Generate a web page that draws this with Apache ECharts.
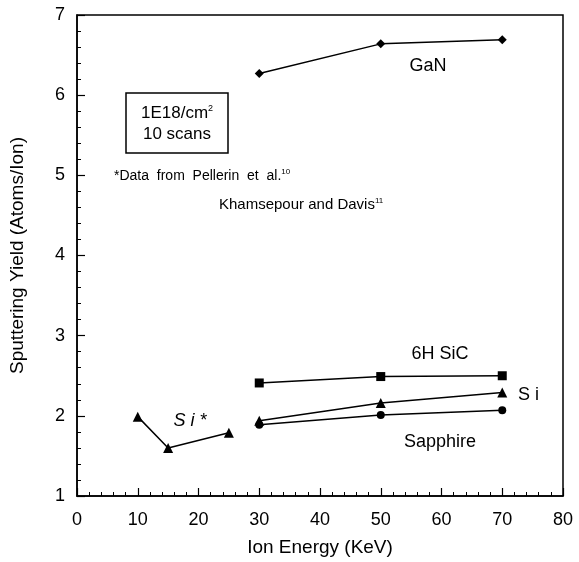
<!DOCTYPE html>
<html>
<head>
<meta charset="utf-8">
<script src="https://cdn.jsdelivr.net/npm/echarts@6/dist/echarts.min.js"></script>
<style>
  html, body { margin: 0; padding: 0; background: #fff; }
  #chart { width: 579px; height: 562px; }
</style>
</head>
<body>
<div id="chart"></div>
<script>
var energyHigh = [30, 50, 70];
var ganYield = [6.27, 6.64, 6.69];
var sicYield = [2.41, 2.49, 2.50];
var siYield = [1.94, 2.16, 2.29];
var sapphireYield = [1.89, 2.01, 2.07];
var energyLow = [10, 15, 25];
var siStarYield = [1.99, 1.60, 1.79];

function pairs(xs, ys) {
  return xs.map(function (x, i) { return [x, ys[i]]; });
}

var chart = echarts.init(document.getElementById('chart'));
var FONT = 'Liberation Sans';

function lineSeries(name, xs, ys, symbol, size) {
  return {
    name: name,
    type: 'line',
    data: pairs(xs, ys),
    symbol: symbol,
    symbolSize: size,
    itemStyle: { color: '#000' },
    lineStyle: { color: '#000', width: 1.5 },
    animation: false
  };
}

function axisCommon() {
  return {
    type: 'value',
    axisLine: { show: true, lineStyle: { color: '#000', width: 1.5 } },
    axisTick: { show: true, inside: true, length: 8, lineStyle: { color: '#000', width: 1.2 } },
    minorTick: { show: true, splitNumber: 5, length: 4, lineStyle: { color: '#000', width: 1 } },
    splitLine: { show: false },
    axisLabel: { color: '#000', fontSize: 18, fontFamily: FONT, margin: 12 },
    nameLocation: 'middle',
    nameTextStyle: { color: '#000', fontSize: 19, fontFamily: FONT }
  };
}

var xAxis = axisCommon();
xAxis.min = 0; xAxis.max = 80; xAxis.interval = 10;
xAxis.name = 'Ion Energy (KeV)';
xAxis.nameGap = 42;
xAxis.axisLabel.margin = 15;

var yAxis = axisCommon();
yAxis.min = 1; yAxis.max = 7; yAxis.interval = 1;
yAxis.name = 'Sputtering Yield (Atoms/Ion)';
yAxis.nameGap = 50;

var txt = { fill: '#000', fontFamily: FONT };

chart.setOption({
  animation: false,
  grid: { left: 77, right: 16, top: 15, bottom: 64, show: true, borderColor: '#000', borderWidth: 1.5, backgroundColor: '#fff' },
  xAxis: xAxis,
  yAxis: yAxis,
  series: [
    lineSeries('GaN', energyHigh, ganYield, 'diamond', 9),
    lineSeries('6H SiC', energyHigh, sicYield, 'rect', 9),
    lineSeries('Si', energyHigh, siYield, 'triangle', 10),
    lineSeries('Sapphire', energyHigh, sapphireYield, 'circle', 8),
    lineSeries('Si*', energyLow, siStarYield, 'triangle', 10)
  ],
  graphic: [
    { type: 'text', x: 428, y: 66, style: Object.assign({ text: 'GaN', fontSize: 18, align: 'center', verticalAlign: 'middle' }, txt) },
    { type: 'text', x: 440, y: 354, style: Object.assign({ text: '6H SiC', fontSize: 18, align: 'center', verticalAlign: 'middle' }, txt) },
    { type: 'text', x: 518, y: 395, style: Object.assign({ text: 'S i', fontSize: 18, align: 'left', verticalAlign: 'middle' }, txt) },
    { type: 'text', x: 440, y: 442, style: Object.assign({ text: 'Sapphire', fontSize: 18, align: 'center', verticalAlign: 'middle' }, txt) },
    { type: 'text', x: 190, y: 421, style: Object.assign({ text: 'S i *', fontSize: 18, fontStyle: 'italic', align: 'center', verticalAlign: 'middle' }, txt) },
    { type: 'rect', shape: { x: 126, y: 93, width: 102, height: 60 }, style: { fill: 'none', stroke: '#000', lineWidth: 1.5 } },
    { type: 'text', x: 177, y: 113, style: Object.assign({ text: '1E18/cm{s|2}', fontSize: 17, align: 'center', verticalAlign: 'middle', rich: { s: { fontSize: 9, verticalAlign: 'top', padding: [0, 0, 8, 0], fontFamily: FONT } } }, txt) },
    { type: 'text', x: 177, y: 134, style: Object.assign({ text: '10 scans', fontSize: 17, align: 'center', verticalAlign: 'middle' }, txt) },
    { type: 'text', x: 114, y: 176, style: Object.assign({ text: '*Data  from  Pellerin  et  al.{s|10}', fontSize: 14, align: 'left', verticalAlign: 'middle', rich: { s: { fontSize: 8, padding: [0, 0, 8, 0], fontFamily: FONT } } }, txt) },
    { type: 'text', x: 219, y: 205, style: Object.assign({ text: 'Khamsepour and Davis{s|11}', fontSize: 15, align: 'left', verticalAlign: 'middle', rich: { s: { fontSize: 8, padding: [0, 0, 8, 0], fontFamily: FONT } } }, txt) }
  ]
});
</script>
</body>
</html>
